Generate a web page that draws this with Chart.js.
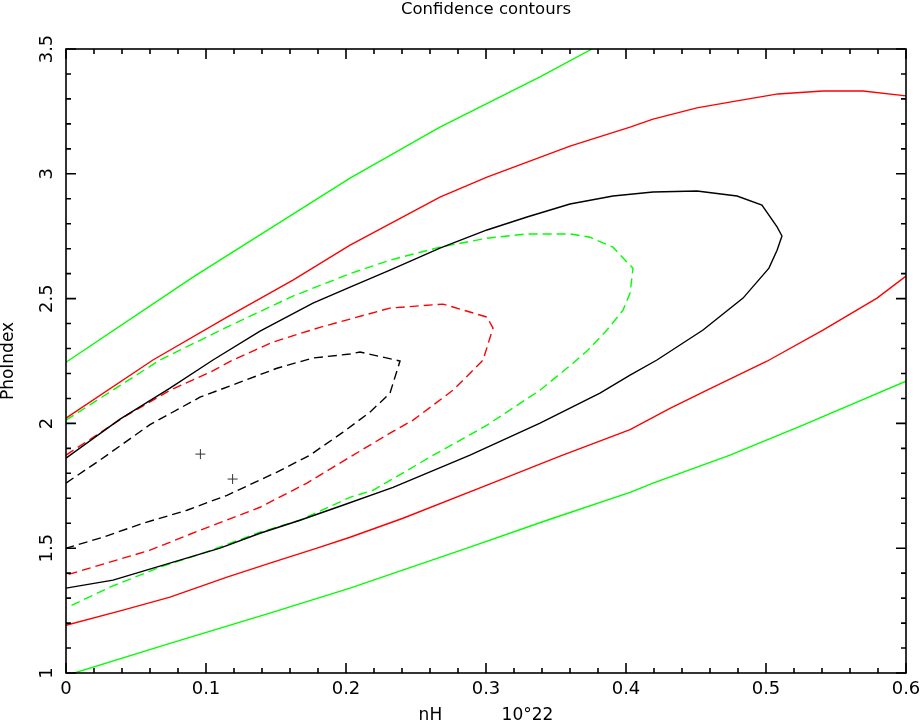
<!DOCTYPE html>
<html>
<head>
<meta charset="utf-8">
<script src="https://cdn.jsdelivr.net/npm/chart.js@4.4.1/dist/chart.umd.min.js"></script>
<style>
    html, body { margin: 0; padding: 0; background: #fff; }
    canvas { display: block; }
</style>
</head>
<body>
<canvas id="contourChart" width="921" height="724"></canvas>
<script>
// Axis ranges and tick labels
const xTicks = [0, 0.1, 0.2, 0.3, 0.4, 0.5, 0.6];
const yTicks = [1, 1.5, 2, 2.5, 3, 3.5];

// Best fit points
const bestFit = [[0.096, 1.877], [0.119, 1.777]];

// Contours as [nH, PhoIndex] pairs
const blackSolid = [
    [0, 1.861], [0.0386, 2.017], [0.0743, 2.141], [0.105, 2.254], [0.1386, 2.37],
    [0.1764, 2.482], [0.2029, 2.546], [0.2314, 2.614], [0.2671, 2.702], [0.3007, 2.775],
    [0.3293, 2.827], [0.36, 2.879], [0.3907, 2.911], [0.4193, 2.927], [0.4507, 2.931],
    [0.4793, 2.911], [0.4971, 2.875], [0.5079, 2.787], [0.5114, 2.751], [0.5079, 2.694],
    [0.5021, 2.622], [0.4836, 2.502], [0.455, 2.374], [0.4221, 2.254], [0.4029, 2.193],
    [0.3814, 2.121], [0.3386, 2.001], [0.2886, 1.873], [0.2336, 1.744], [0.1957, 1.668],
    [0.1671, 1.612], [0.1386, 1.56], [0.11, 1.5], [0.0336, 1.372], [0, 1.34]
];
const redSolidUpper = [
    [0, 2.021], [0.0621, 2.254], [0.115, 2.426], [0.1621, 2.574], [0.2029, 2.714],
    [0.2671, 2.907], [0.3007, 2.987], [0.36, 3.111], [0.4029, 3.187], [0.4193, 3.219],
    [0.4507, 3.264], [0.4793, 3.292], [0.5086, 3.32], [0.5407, 3.332], [0.5693, 3.332],
    [0.6, 3.312]
];
const redSolidLower = [
    [0, 1.191], [0.0407, 1.252], [0.0743, 1.304], [0.115, 1.384], [0.1479, 1.444],
    [0.1793, 1.5], [0.2029, 1.544], [0.2407, 1.62], [0.3007, 1.753], [0.3529, 1.869],
    [0.4029, 1.975], [0.4314, 2.06], [0.4579, 2.133], [0.5007, 2.249], [0.5407, 2.374],
    [0.5793, 2.502], [0.6, 2.59]
];
const greenSolidUpper = [
    [0, 2.245], [0.0907, 2.586], [0.2029, 2.983], [0.2671, 3.187], [0.3386, 3.388],
    [0.3757, 3.5]
];
const greenSolidLower = [
    [0, 0.99], [0.0743, 1.119], [0.1479, 1.244], [0.2029, 1.34],
    [0.2864, 1.5], [0.3436, 1.612], [0.4029, 1.724], [0.4193, 1.761], [0.4743, 1.873],
    [0.5264, 1.993], [0.6, 2.169]
];
const blackDashed = [
    [0, 1.761], [0.0243, 1.853], [0.06, 1.995], [0.0957, 2.105], [0.1243, 2.165],
    [0.1507, 2.221], [0.1764, 2.262], [0.2029, 2.278], [0.21, 2.286], [0.2386, 2.25],
    [0.2314, 2.121], [0.2171, 2.045], [0.1979, 1.965], [0.1743, 1.873], [0.1507, 1.805],
    [0.115, 1.712], [0.0864, 1.652], [0.055, 1.6], [0.0264, 1.544], [0, 1.5]
];
const redDashed = [
    [0, 1.873], [0.0436, 2.033], [0.0743, 2.133], [0.1029, 2.205], [0.1193, 2.254],
    [0.1479, 2.326], [0.1814, 2.385], [0.2029, 2.418], [0.2314, 2.462], [0.2693, 2.478],
    [0.3007, 2.426], [0.305, 2.382], [0.2979, 2.254], [0.2957, 2.241], [0.2764, 2.133],
    [0.2479, 2.013], [0.2314, 1.961], [0.1957, 1.841], [0.1721, 1.761], [0.1386, 1.664],
    [0.0957, 1.572], [0.06, 1.492], [0, 1.392]
];
const greenDashed = [
    [0, 2.013], [0.0671, 2.254], [0.115, 2.386], [0.1621, 2.51], [0.2029, 2.6],
    [0.2314, 2.654], [0.2671, 2.706], [0.3007, 2.742], [0.3293, 2.759], [0.36, 2.759],
    [0.3743, 2.746], [0.3907, 2.706], [0.4007, 2.646], [0.405, 2.622], [0.4029, 2.522],
    [0.3979, 2.454], [0.3864, 2.374], [0.3729, 2.294], [0.3621, 2.241], [0.3386, 2.133],
    [0.3007, 1.993], [0.26, 1.865], [0.2193, 1.732], [0.2029, 1.704], [0.1671, 1.612],
    [0.1386, 1.564], [0.0979, 1.48], [0.0671, 1.424], [0.0314, 1.344], [0, 1.26]
];

const xMinor = 0.02;
const yMinor = 0.1;

const BLACK = "#000000";
const RED = "#ff0000";
const GREEN = "#00ff00";
const DASH = [9, 5];
const FONT = "DejaVu Sans";

function toPoints(arr) {
    return arr.map(p => ({ x: p[0], y: p[1] }));
}

function contour(arr, color, dashed) {
    return {
        type: "line",
        data: toPoints(arr),
        borderColor: color,
        borderWidth: 1.4,
        borderDash: dashed ? DASH : [],
        pointRadius: 0,
        tension: 0,
        fill: false
    };
}

// inward ticks on all four sides, like the original plot frame
const frameTicks = {
    id: "frameTicks",
    afterDraw(chart) {
        const { ctx, chartArea: a, scales: { x, y } } = chart;
        ctx.save();
        ctx.strokeStyle = BLACK;
        ctx.lineWidth = 1.6;
        ctx.strokeRect(a.left, a.top, a.right - a.left, a.bottom - a.top);
        ctx.beginPath();
        const nx = Math.round((x.max - x.min) / xMinor);
        for (let i = 0; i <= nx; i++) {
            const px = x.getPixelForValue(x.min + i * xMinor);
            const len = i % 5 === 0 ? 10 : 5;
            ctx.moveTo(px, a.bottom); ctx.lineTo(px, a.bottom - len);
            ctx.moveTo(px, a.top); ctx.lineTo(px, a.top + len);
        }
        const ny = Math.round((y.max - y.min) / yMinor);
        for (let i = 0; i <= ny; i++) {
            const py = y.getPixelForValue(y.min + i * yMinor);
            const len = i % 5 === 0 ? 10 : 5;
            ctx.moveTo(a.left, py); ctx.lineTo(a.left + len, py);
            ctx.moveTo(a.right, py); ctx.lineTo(a.right - len, py);
        }
        ctx.stroke();
        ctx.restore();
    }
};

document.addEventListener("DOMContentLoaded", function () {
    const ctx = document.getElementById("contourChart").getContext("2d");

    new Chart(ctx, {
        type: "scatter",
        data: {
            datasets: [
                contour(greenSolidUpper, GREEN, false),
                contour(greenSolidLower, GREEN, false),
                contour(redSolidUpper, RED, false),
                contour(redSolidLower, RED, false),
                contour(blackSolid, BLACK, false),
                contour(greenDashed, GREEN, true),
                contour(redDashed, RED, true),
                contour(blackDashed, BLACK, true),
                {
                    type: "scatter",
                    data: toPoints(bestFit),
                    pointStyle: "cross",
                    pointRadius: 5,
                    borderColor: "#333",
                    borderWidth: 1,
                    showLine: false
                }
            ]
        },
        options: {
            responsive: false,
            animation: false,
            layout: { padding: { left: 0, right: 15, top: 0, bottom: 0 } },
            plugins: {
                legend: { display: false },
                tooltip: { enabled: false },
                title: { display: false }
            },
            scales: {
                x: {
                    type: "linear",
                    min: xTicks[0],
                    max: xTicks[xTicks.length - 1],
                    afterFit: s => { s.height = 51; s.paddingLeft = 0; s.paddingRight = 0; },
                    afterBuildTicks: s => { s.ticks = xTicks.map(v => ({ value: v })); },
                    grid: { display: false, drawTicks: false },
                    border: { display: false },
                    ticks: {
                        color: BLACK,
                        padding: 6,
                        maxRotation: 0,
                        callback: v => String(v),
                        font: { family: FONT, size: 18 }
                    },
                    title: {
                        display: true,
                        text: "nH           10°22",
                        color: BLACK,
                        font: { family: FONT, size: 17, lineHeight: 1 },
                        padding: { top: 0, bottom: 0 }
                    }
                },
                // top axis only carries the plot title, centred over the frame
                xTop: {
                    type: "linear",
                    position: "top",
                    min: xTicks[0],
                    max: xTicks[xTicks.length - 1],
                    afterFit: s => { s.height = 49; s.paddingLeft = 0; s.paddingRight = 0; },
                    grid: { display: false, drawTicks: false },
                    border: { display: false },
                    ticks: { display: false },
                    title: {
                        display: true,
                        text: "Confidence contours",
                        color: BLACK,
                        font: { family: FONT, size: 16.5, lineHeight: 1.2 },
                        padding: { top: 0, bottom: 0 }
                    }
                },
                y: {
                    type: "linear",
                    min: yTicks[0],
                    max: yTicks[yTicks.length - 1],
                    afterFit: s => { s.width = 66; s.paddingTop = 0; s.paddingBottom = 0; },
                    afterBuildTicks: s => { s.ticks = yTicks.map(v => ({ value: v })); },
                    grid: { display: false, drawTicks: false },
                    border: { display: false },
                    ticks: {
                        color: BLACK,
                        padding: 4,
                        minRotation: 90,
                        maxRotation: 90,
                        crossAlign: "center",
                        callback: v => String(v),
                        font: { family: FONT, size: 18 }
                    },
                    title: {
                        display: true,
                        text: "PhoIndex",
                        color: BLACK,
                        font: { family: FONT, size: 17, lineHeight: 1 },
                        padding: { top: 0, bottom: 0 }
                    }
                }
            }
        },
        plugins: [frameTicks]
    });
});
</script>
</body>
</html>
